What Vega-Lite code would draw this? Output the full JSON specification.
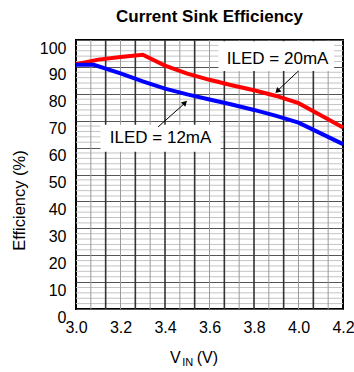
{
  "$schema": "https://vega.github.io/schema/vega-lite/v6.json",
  "width": 267,
  "height": 269,
  "autosize": "none",
  "padding": {"left": 76, "top": 40, "right": 11, "bottom": 63},
  "background": "white",
  "title": {"text": "Current Sink Efficiency", "font": "Liberation Sans", "fontSize": 17, "fontWeight": "bold", "baseline": "alphabetic", "offset": 0, "color": "black"},
  "config": {
    "view": {"stroke": "black", "strokeWidth": 2},
    "font": "Liberation Sans",
    "axisX": {"grid": false, "ticks": false, "domain": false, "labelFlush": false, "labelOverlap": false, "labelFontSize": 16, "labelColor": "black", "labelPadding": 10, "labelBaseline": "top", "format": ".1f"},
    "axisY": {"grid": true, "gridColor": "#555555", "gridWidth": 1, "gridOpacity": 1, "ticks": false, "domain": false, "labelFlush": false, "labelOverlap": false, "labelFontSize": 16, "labelColor": "black", "labelPadding": 10, "labelBaseline": "top", "titleFontSize": 16.5, "titleFontWeight": "normal", "titleColor": "black", "titlePadding": 12, "titleY": 160}
  },
  "datasets": {
    "curves": [
      {"vin": 3.0, "eff": 91.0, "series": "20mA"},
      {"vin": 3.1, "eff": 92.7, "series": "20mA"},
      {"vin": 3.2, "eff": 93.7, "series": "20mA"},
      {"vin": 3.3, "eff": 94.5, "series": "20mA"},
      {"vin": 3.4, "eff": 90.5, "series": "20mA"},
      {"vin": 3.5, "eff": 87.5, "series": "20mA"},
      {"vin": 3.6, "eff": 85.2, "series": "20mA"},
      {"vin": 3.7, "eff": 83.2, "series": "20mA"},
      {"vin": 3.8, "eff": 81.3, "series": "20mA"},
      {"vin": 3.9, "eff": 79.2, "series": "20mA"},
      {"vin": 4.0, "eff": 76.5, "series": "20mA"},
      {"vin": 4.1, "eff": 72.0, "series": "20mA"},
      {"vin": 4.2, "eff": 67.5, "series": "20mA"},
      {"vin": 3.0, "eff": 90.8, "series": "12mA"},
      {"vin": 3.08, "eff": 90.8, "series": "12mA"},
      {"vin": 3.2, "eff": 87.6, "series": "12mA"},
      {"vin": 3.3, "eff": 84.6, "series": "12mA"},
      {"vin": 3.4, "eff": 81.9, "series": "12mA"},
      {"vin": 3.5, "eff": 79.8, "series": "12mA"},
      {"vin": 3.6, "eff": 77.9, "series": "12mA"},
      {"vin": 3.7, "eff": 76.0, "series": "12mA"},
      {"vin": 3.8, "eff": 74.0, "series": "12mA"},
      {"vin": 3.9, "eff": 71.8, "series": "12mA"},
      {"vin": 4.0, "eff": 69.3, "series": "12mA"},
      {"vin": 4.1, "eff": 65.3, "series": "12mA"},
      {"vin": 4.2, "eff": 61.3, "series": "12mA"}
    ],
    "vmaj": [{"v": 3.1333}, {"v": 3.2667}, {"v": 3.4}, {"v": 3.5333}, {"v": 3.6667}, {"v": 3.8}, {"v": 3.9333}, {"v": 4.0667}],
    "vmin": [{"v": 3.0667}, {"v": 3.2}, {"v": 3.3333}, {"v": 3.4667}, {"v": 3.6}, {"v": 3.7333}, {"v": 3.8667}, {"v": 4.0}, {"v": 4.1333}],
    "hmin": [
      {"v": 2}, {"v": 4}, {"v": 6}, {"v": 8},
      {"v": 12}, {"v": 14}, {"v": 16}, {"v": 18},
      {"v": 22}, {"v": 24}, {"v": 26}, {"v": 28},
      {"v": 32}, {"v": 34}, {"v": 36}, {"v": 38},
      {"v": 42}, {"v": 44}, {"v": 46}, {"v": 48},
      {"v": 52}, {"v": 54}, {"v": 56}, {"v": 58},
      {"v": 62}, {"v": 64}, {"v": 66}, {"v": 68},
      {"v": 72}, {"v": 74}, {"v": 76}, {"v": 78},
      {"v": 82}, {"v": 84}, {"v": 86}, {"v": 88},
      {"v": 92}, {"v": 94}, {"v": 96}, {"v": 98}
    ],
    "boxes": [
      {"x": 3.64, "x2": 4.16, "y": 99.5, "y2": 88.5},
      {"x": 3.11, "x2": 3.65, "y": 68.5, "y2": 58.5}
    ],
    "labels": [
      {"x": 3.906, "y": 92.9, "t": "ILED = 20mA"},
      {"x": 3.38, "y": 63.6, "t": "ILED = 12mA"}
    ],
    "arrows": [
      {"x": 4.0, "y": 88.5, "x2": 3.91, "y2": 81.5},
      {"x": 3.369, "y": 67.7, "x2": 3.485, "y2": 76.2}
    ],
    "headA": [{"x": 3.905, "y": 81.0}],
    "headB": [{"x": 3.49, "y": 76.7}],
    "xtitleBig": [{"x": 3.4225, "y": -20.1, "t": "V"}, {"x": 3.5425, "y": -20.1, "t": "(V)"}],
    "xtitleSub": [{"x": 3.477, "y": -21.2, "t": "IN"}]
  },
  "layer": [
    {
      "data": {"name": "hmin"},
      "mark": {"type": "rule", "color": "#c4c4c4", "strokeWidth": 1},
      "encoding": {"y": {"field": "v", "type": "quantitative", "scale": {"domain": [0, 100], "nice": false}, "title": "Efficiency (%)", "axis": {"values": [0, 10, 20, 30, 40, 50, 60, 70, 80, 90, 100]}}}
    },
    {
      "data": {"name": "vmin"},
      "mark": {"type": "rule", "color": "#9a9a9a", "strokeWidth": 1},
      "encoding": {"x": {"field": "v", "type": "quantitative", "scale": {"domain": [3, 4.2], "nice": false}, "title": null, "axis": {"values": [3.0, 3.2, 3.4, 3.6, 3.8, 4.0, 4.2]}}}
    },
    {
      "data": {"name": "vmaj"},
      "mark": {"type": "rule", "color": "#333333", "strokeWidth": 1.6},
      "encoding": {"x": {"field": "v", "type": "quantitative", "title": null, "axis": {"values": [3.0, 3.2, 3.4, 3.6, 3.8, 4.0, 4.2]}}}
    },
    {
      "data": {"name": "curves"},
      "mark": {"type": "line", "strokeWidth": 4, "interpolate": "linear"},
      "encoding": {
        "x": {"field": "vin", "type": "quantitative", "scale": {"domain": [3, 4.2], "nice": false}, "title": null, "axis": {"values": [3.0, 3.2, 3.4, 3.6, 3.8, 4.0, 4.2]}},
        "y": {"field": "eff", "type": "quantitative", "scale": {"domain": [0, 100], "nice": false}, "title": "Efficiency (%)", "axis": {"values": [0, 10, 20, 30, 40, 50, 60, 70, 80, 90, 100]}},
        "color": {"field": "series", "type": "nominal", "scale": {"domain": ["20mA", "12mA"], "range": ["#ff0000", "#0000ff"]}, "legend": null}
      }
    },
    {
      "data": {"name": "boxes"},
      "mark": {"type": "rect", "color": "white"},
      "encoding": {
        "x": {"field": "x", "type": "quantitative", "title": null, "axis": {"values": [3.0, 3.2, 3.4, 3.6, 3.8, 4.0, 4.2]}},
        "x2": {"field": "x2"},
        "y": {"field": "y", "type": "quantitative", "title": "Efficiency (%)", "axis": {"values": [0, 10, 20, 30, 40, 50, 60, 70, 80, 90, 100]}},
        "y2": {"field": "y2"}
      }
    },
    {
      "data": {"name": "labels"},
      "mark": {"type": "text", "fontSize": 17, "color": "black", "align": "center", "baseline": "middle"},
      "encoding": {
        "x": {"field": "x", "type": "quantitative", "title": null, "axis": {"values": [3.0, 3.2, 3.4, 3.6, 3.8, 4.0, 4.2]}},
        "y": {"field": "y", "type": "quantitative", "title": "Efficiency (%)", "axis": {"values": [0, 10, 20, 30, 40, 50, 60, 70, 80, 90, 100]}},
        "text": {"field": "t"}
      }
    },
    {
      "data": {"name": "arrows"},
      "mark": {"type": "rule", "color": "black", "strokeWidth": 1},
      "encoding": {
        "x": {"field": "x", "type": "quantitative", "title": null, "axis": {"values": [3.0, 3.2, 3.4, 3.6, 3.8, 4.0, 4.2]}},
        "y": {"field": "y", "type": "quantitative", "title": "Efficiency (%)", "axis": {"values": [0, 10, 20, 30, 40, 50, 60, 70, 80, 90, 100]}},
        "x2": {"field": "x2"},
        "y2": {"field": "y2"}
      }
    },
    {
      "data": {"name": "headA"},
      "mark": {"type": "point", "shape": "triangle-up", "filled": true, "color": "black", "size": 40, "angle": 225, "opacity": 1},
      "encoding": {
        "x": {"field": "x", "type": "quantitative", "title": null, "axis": {"values": [3.0, 3.2, 3.4, 3.6, 3.8, 4.0, 4.2]}},
        "y": {"field": "y", "type": "quantitative", "title": "Efficiency (%)", "axis": {"values": [0, 10, 20, 30, 40, 50, 60, 70, 80, 90, 100]}}
      }
    },
    {
      "data": {"name": "headB"},
      "mark": {"type": "point", "shape": "triangle-up", "filled": true, "color": "black", "size": 40, "angle": 45, "opacity": 1},
      "encoding": {
        "x": {"field": "x", "type": "quantitative", "title": null, "axis": {"values": [3.0, 3.2, 3.4, 3.6, 3.8, 4.0, 4.2]}},
        "y": {"field": "y", "type": "quantitative", "title": "Efficiency (%)", "axis": {"values": [0, 10, 20, 30, 40, 50, 60, 70, 80, 90, 100]}}
      }
    },
    {
      "data": {"name": "xtitleBig"},
      "mark": {"type": "text", "fontSize": 16, "color": "black", "align": "left", "baseline": "alphabetic"},
      "encoding": {
        "x": {"field": "x", "type": "quantitative", "title": null, "axis": {"values": [3.0, 3.2, 3.4, 3.6, 3.8, 4.0, 4.2]}},
        "y": {"field": "y", "type": "quantitative", "title": "Efficiency (%)", "axis": {"values": [0, 10, 20, 30, 40, 50, 60, 70, 80, 90, 100]}},
        "text": {"field": "t"}
      }
    },
    {
      "data": {"name": "xtitleSub"},
      "mark": {"type": "text", "fontSize": 11, "color": "black", "align": "left", "baseline": "alphabetic"},
      "encoding": {
        "x": {"field": "x", "type": "quantitative", "title": null, "axis": {"values": [3.0, 3.2, 3.4, 3.6, 3.8, 4.0, 4.2]}},
        "y": {"field": "y", "type": "quantitative", "title": "Efficiency (%)", "axis": {"values": [0, 10, 20, 30, 40, 50, 60, 70, 80, 90, 100]}},
        "text": {"field": "t"}
      }
    }
  ]
}
